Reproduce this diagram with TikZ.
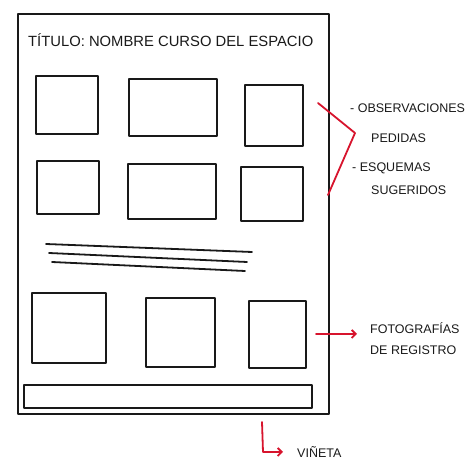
\documentclass[tikz,border=0pt]{standalone}
\usepackage{fontspec}
\setmainfont{Liberation Sans}
\usetikzlibrary{arrows.meta}
\definecolor{ink}{RGB}{25,25,25}
\definecolor{redink}{RGB}{215,20,45}
\tikzset{
  sk/.style={draw=ink, line width=1.8pt, line cap=round, line join=round},
  boxn/.style={sk, rectangle, inner sep=0pt},
  redline/.style={draw=redink, line width=1.8pt, line cap=round, line join=round},
  lbl/.style={font=\fontsize{12.5}{15}\selectfont, text=ink, inner sep=0pt, anchor=west},
}
\begin{document}
\begin{tikzpicture}[x=1pt,y=-1pt]
\useasboundingbox (0,0) rectangle (475,462);
% outer frame
\node[boxn, minimum width=311pt, minimum height=400pt, anchor=north west] (frame) at (17,13) {};
\node[text=ink, inner sep=0pt, anchor=west, font=\fontsize{14.8}{18}\selectfont] (title) at (28,40) {TÍTULO: NOMBRE CURSO DEL ESPACIO};
% row 1
\node[boxn, minimum width=62pt, minimum height=58pt, anchor=north west] (b1) at (35,75) {};
\node[boxn, minimum width=88pt, minimum height=57pt, anchor=north west] (b2) at (128,78) {};
\node[boxn, minimum width=58pt, minimum height=61pt, anchor=north west] (b3) at (244,84) {};
% row 2
\node[boxn, minimum width=62pt, minimum height=53pt, anchor=north west] (b4) at (36,160) {};
\node[boxn, minimum width=88pt, minimum height=55pt, anchor=north west] (b5) at (127,163) {};
\node[boxn, minimum width=62pt, minimum height=54pt, anchor=north west] (b6) at (240,166) {};
% text lines
\coordinate (l1a) at (46,244); \coordinate (l1b) at (252,252);
\coordinate (l2a) at (49,253); \coordinate (l2b) at (247,262);
\coordinate (l3a) at (52,262); \coordinate (l3b) at (245,271);
\draw[sk] (l1a) -- (l1b);
\draw[sk] (l2a) -- (l2b);
\draw[sk] (l3a) -- (l3b);
% row 3
\node[boxn, minimum width=74pt, minimum height=70pt, anchor=north west] (b7) at (31,292) {};
\node[boxn, minimum width=69pt, minimum height=69pt, anchor=north west] (b8) at (145,297) {};
\node[boxn, minimum width=57pt, minimum height=67pt, anchor=north west] (b9) at (248,300) {};
% bottom strip
\node[boxn, minimum width=288pt, minimum height=23pt, anchor=north west] (strip) at (23,384) {};
% labels
\node[lbl] (obs) at (350,108) {- OBSERVACIONES};
\node[lbl] (ped) at (371,138) {PEDIDAS};
\node[lbl] (esq) at (352,168) {- ESQUEMAS};
\node[lbl] (sug) at (371,190) {SUGERIDOS};
\node[lbl] (foto) at (370,328) {FOTOGRAFÍAS};
\node[lbl] (reg) at (370,350) {DE REGISTRO};
\node[lbl] (vin) at (297,452) {VIÑETA};
% red bracket
\coordinate (brA) at (318,103);
\coordinate (brB) at (355,133);
\coordinate (brC) at (328,195);
\draw[redline] (brA) -- (brB) -- (brC);
% red arrows
\coordinate (fA) at (316,334);
\coordinate (fB) at (357,334);
\draw[redline, -{Straight Barb[length=4pt,width=8pt]}] (fA) -- (fB);
\coordinate (vA) at (262,422);
\coordinate (vB) at (263,452);
\coordinate (vC) at (283,452);
\draw[redline, -{Straight Barb[length=4pt,width=8pt]}] (vA) -- (vB) -- (vC);
\end{tikzpicture}
\end{document}
